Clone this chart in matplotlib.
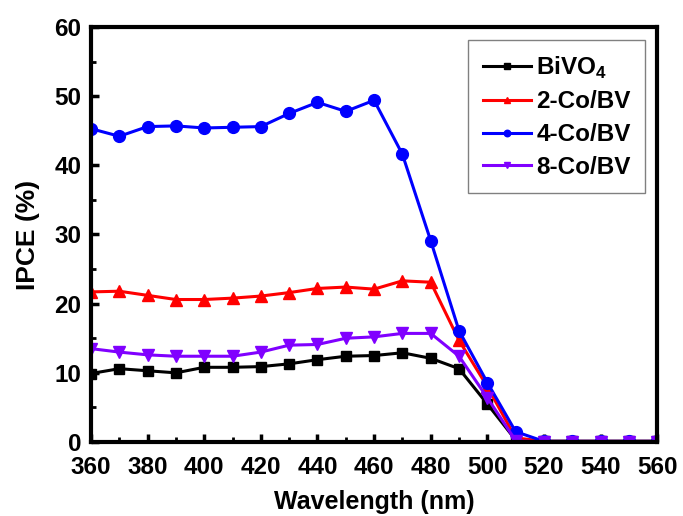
import matplotlib
matplotlib.use("Agg")
import matplotlib.pyplot as plt
from matplotlib.ticker import MultipleLocator

plt.rcParams['font.family'] = ['Liberation Sans', 'DejaVu Sans']
plt.rcParams['font.weight'] = 'bold'
plt.rcParams['mathtext.fontset'] = 'custom'
plt.rcParams['mathtext.bf'] = 'Liberation Sans:bold'
plt.rcParams['mathtext.rm'] = 'Liberation Sans:bold'

wavelength = [360, 370, 380, 390, 400, 410, 420, 430, 440, 450, 460, 470, 480,
              490, 500, 510, 520, 530, 540, 550, 560]
bivo4 = [9.9, 10.6, 10.3, 10.0, 10.8, 10.8, 10.9, 11.3, 11.9, 12.4, 12.5, 12.9, 12.1,
         10.6, 5.5, 0.3, 0.1, 0.1, 0.1, 0.1, 0.1]
co2 = [21.7, 21.8, 21.2, 20.6, 20.6, 20.8, 21.1, 21.6, 22.2, 22.4, 22.1, 23.3, 23.1,
       14.7, 8.0, 0.6, 0.1, 0.1, 0.1, 0.1, 0.1]
co4 = [45.3, 44.2, 45.6, 45.7, 45.4, 45.5, 45.6, 47.5, 49.1, 47.8, 49.4, 41.6, 29.1,
       16.1, 8.6, 1.5, 0.1, 0.1, 0.1, 0.1, 0.1]
co8 = [13.5, 13.0, 12.6, 12.4, 12.4, 12.4, 13.0, 14.0, 14.1, 15.0, 15.2, 15.7, 15.7,
       12.4, 6.4, 0.2, 0.0, 0.0, 0.0, 0.0, 0.0]

labels = ['BiVO$_\\mathrm{4}$', '2-Co/BV', '4-Co/BV', '8-Co/BV']

fig = plt.figure(figsize=(6.83, 5.16), dpi=100)
ax = fig.add_axes([0.1332, 0.1434, 0.829, 0.8043])

ax.plot(wavelength, bivo4, color='black', marker='s', ms=7.5, lw=2.2, label=labels[0])
ax.plot(wavelength, co2, color='red', marker='^', ms=8.5, lw=2.2, label=labels[1])
ax.plot(wavelength, co4, color='blue', marker='o', ms=8.5, lw=2.2, label=labels[2])
ax.plot(wavelength, co8, color='#8000FF', marker='v', ms=8.5, lw=2.2, label=labels[3])

ax.set_xlim(360, 560)
ax.set_ylim(0, 60)
ax.xaxis.set_major_locator(MultipleLocator(20))
ax.xaxis.set_minor_locator(MultipleLocator(10))
ax.yaxis.set_major_locator(MultipleLocator(10))
ax.yaxis.set_minor_locator(MultipleLocator(5))
ax.tick_params(which='major', direction='in', length=6, width=2.5, labelsize=17.5)
ax.tick_params(axis='x', which='major', pad=10)
ax.tick_params(axis='y', which='major', pad=7)
ax.tick_params(which='minor', direction='in', length=3.5, width=2)
for lbl in ax.get_xticklabels() + ax.get_yticklabels():
    lbl.set_fontweight('bold')
for s in ax.spines.values():
    s.set_linewidth(3)

ax.set_xlabel('Wavelength (nm)', fontsize=18, fontweight='bold', labelpad=8)
ax.set_ylabel('IPCE (%)', fontsize=19, fontweight='bold', labelpad=10)

leg = ax.legend(loc='upper right', bbox_to_anchor=(0.979, 0.969), fontsize=17.5,
                handlelength=2.0, markerscale=0.55, fancybox=False, edgecolor='gray',
                framealpha=1, borderpad=0.6, labelspacing=0.4, handletextpad=0.2,
                borderaxespad=0)
leg.get_frame().set_linewidth(1.0)
for t in leg.get_texts():
    t.set_fontweight('bold')

fig.savefig('out.png', dpi=100)
